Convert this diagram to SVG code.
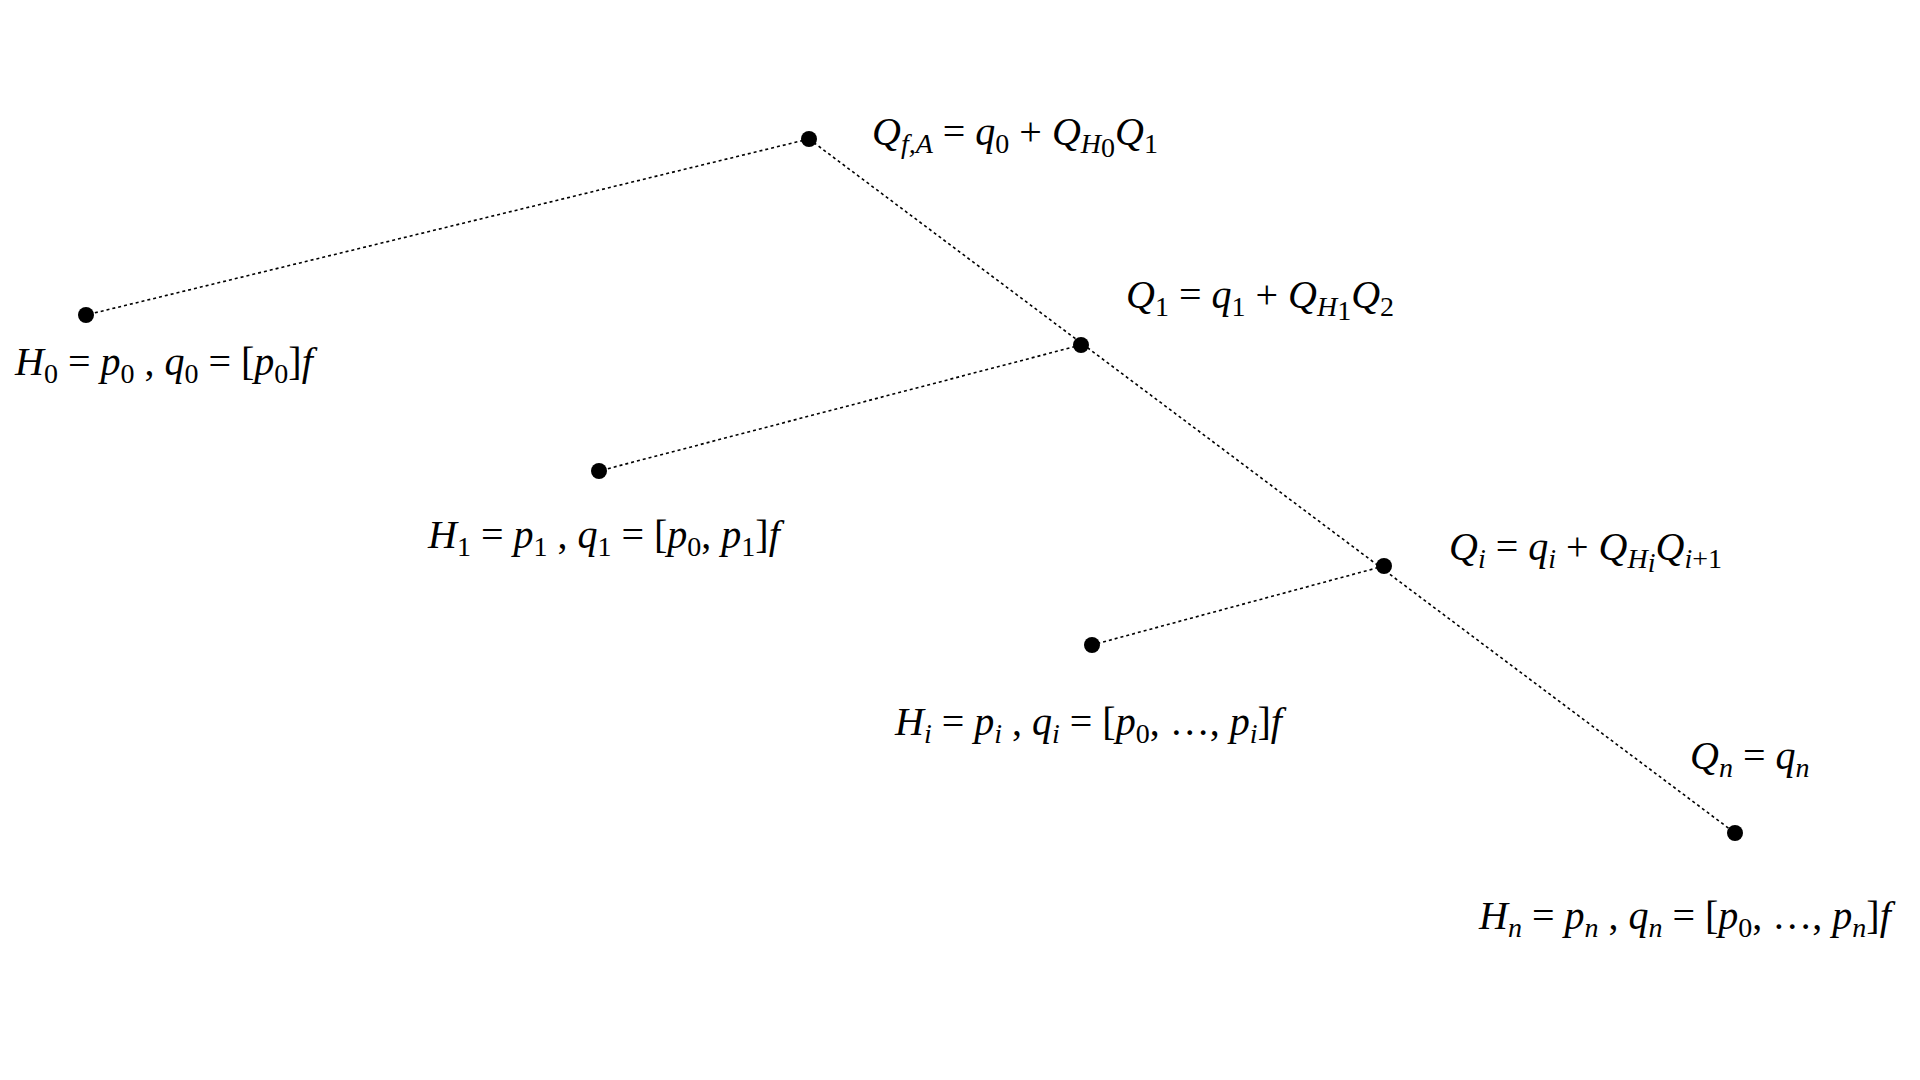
<svg xmlns="http://www.w3.org/2000/svg" width="1920" height="1080" viewBox="0 0 1920 1080">
<style>
.l{stroke:#000;stroke-width:1.6;stroke-dasharray:3 3;fill:none}
.d{fill:#000}
text{font-family:"Liberation Serif","Times New Roman",serif;font-size:40px;fill:#000}
.i{font-style:italic}
.s{font-size:28px}
</style>
<rect width="1920" height="1080" fill="#fff"/>
<g id="connectors">
<line class="l" x1="809" y1="139" x2="86" y2="315"/>
<line class="l" x1="809" y1="139" x2="1735" y2="833"/>
<line class="l" x1="1081" y1="345" x2="599" y2="471"/>
<line class="l" x1="1384" y1="566" x2="1092" y2="645"/>
</g>
<g id="nA"><circle class="d" cx="809" cy="139" r="8"/>
<text x="872" y="145"><tspan class="i">Q</tspan><tspan class="i s" dy="8">f,A</tspan><tspan dy="-8"> = </tspan><tspan class="i">q</tspan><tspan class="s" dy="8">0</tspan><tspan dy="-8"> + </tspan><tspan class="i">Q</tspan><tspan class="i s" dy="8">H</tspan><tspan class="s" dy="4" font-size="20">0</tspan><tspan class="i" dy="-12">Q</tspan><tspan class="s" dy="8">1</tspan></text></g>
<g id="nH0"><circle class="d" cx="86" cy="315" r="8"/>
<text x="15" y="375"><tspan class="i">H</tspan><tspan class="s" dy="8">0</tspan><tspan dy="-8"> = </tspan><tspan class="i">p</tspan><tspan class="s" dy="8">0</tspan><tspan dy="-8"> , </tspan><tspan class="i">q</tspan><tspan class="s" dy="8">0</tspan><tspan dy="-8"> = [</tspan><tspan class="i">p</tspan><tspan class="s" dy="8">0</tspan><tspan dy="-8">]</tspan><tspan class="i">f</tspan></text></g>
<g id="nQ1"><circle class="d" cx="1081" cy="345" r="8"/>
<text x="1126" y="308"><tspan class="i">Q</tspan><tspan class="s" dy="8">1</tspan><tspan dy="-8"> = </tspan><tspan class="i">q</tspan><tspan class="s" dy="8">1</tspan><tspan dy="-8"> + </tspan><tspan class="i">Q</tspan><tspan class="i s" dy="8">H</tspan><tspan class="s" dy="4" font-size="20">1</tspan><tspan class="i" dy="-12">Q</tspan><tspan class="s" dy="8">2</tspan></text></g>
<g id="nH1"><circle class="d" cx="599" cy="471" r="8"/>
<text x="428" y="548"><tspan class="i">H</tspan><tspan class="s" dy="8">1</tspan><tspan dy="-8"> = </tspan><tspan class="i">p</tspan><tspan class="s" dy="8">1</tspan><tspan dy="-8"> , </tspan><tspan class="i">q</tspan><tspan class="s" dy="8">1</tspan><tspan dy="-8"> = [</tspan><tspan class="i">p</tspan><tspan class="s" dy="8">0</tspan><tspan dy="-8">, </tspan><tspan class="i">p</tspan><tspan class="s" dy="8">1</tspan><tspan dy="-8">]</tspan><tspan class="i">f</tspan></text></g>
<g id="nQi"><circle class="d" cx="1384" cy="566" r="8"/>
<text x="1449" y="560"><tspan class="i">Q</tspan><tspan class="i s" dy="8">i</tspan><tspan dy="-8"> = </tspan><tspan class="i">q</tspan><tspan class="i s" dy="8">i</tspan><tspan dy="-8"> + </tspan><tspan class="i">Q</tspan><tspan class="i s" dy="8">H</tspan><tspan class="i s" dy="4" font-size="20">i</tspan><tspan class="i" dy="-12">Q</tspan><tspan class="i s" dy="8">i</tspan><tspan class="s">+1</tspan></text></g>
<g id="nHi"><circle class="d" cx="1092" cy="645" r="8"/>
<text x="895" y="735"><tspan class="i">H</tspan><tspan class="i s" dy="8">i</tspan><tspan dy="-8"> = </tspan><tspan class="i">p</tspan><tspan class="i s" dy="8">i</tspan><tspan dy="-8"> , </tspan><tspan class="i">q</tspan><tspan class="i s" dy="8">i</tspan><tspan dy="-8"> = [</tspan><tspan class="i">p</tspan><tspan class="s" dy="8">0</tspan><tspan dy="-8">, …, </tspan><tspan class="i">p</tspan><tspan class="i s" dy="8">i</tspan><tspan dy="-8">]</tspan><tspan class="i">f</tspan></text></g>
<g id="nHn"><circle class="d" cx="1735" cy="833" r="8"/>
<text x="1690" y="769"><tspan class="i">Q</tspan><tspan class="i s" dy="8">n</tspan><tspan dy="-8"> = </tspan><tspan class="i">q</tspan><tspan class="i s" dy="8">n</tspan></text>
<text x="1479" y="929"><tspan class="i">H</tspan><tspan class="i s" dy="8">n</tspan><tspan dy="-8"> = </tspan><tspan class="i">p</tspan><tspan class="i s" dy="8">n</tspan><tspan dy="-8"> , </tspan><tspan class="i">q</tspan><tspan class="i s" dy="8">n</tspan><tspan dy="-8"> = [</tspan><tspan class="i">p</tspan><tspan class="s" dy="8">0</tspan><tspan dy="-8">, …, </tspan><tspan class="i">p</tspan><tspan class="i s" dy="8">n</tspan><tspan dy="-8">]</tspan><tspan class="i">f</tspan></text></g>
</svg>
